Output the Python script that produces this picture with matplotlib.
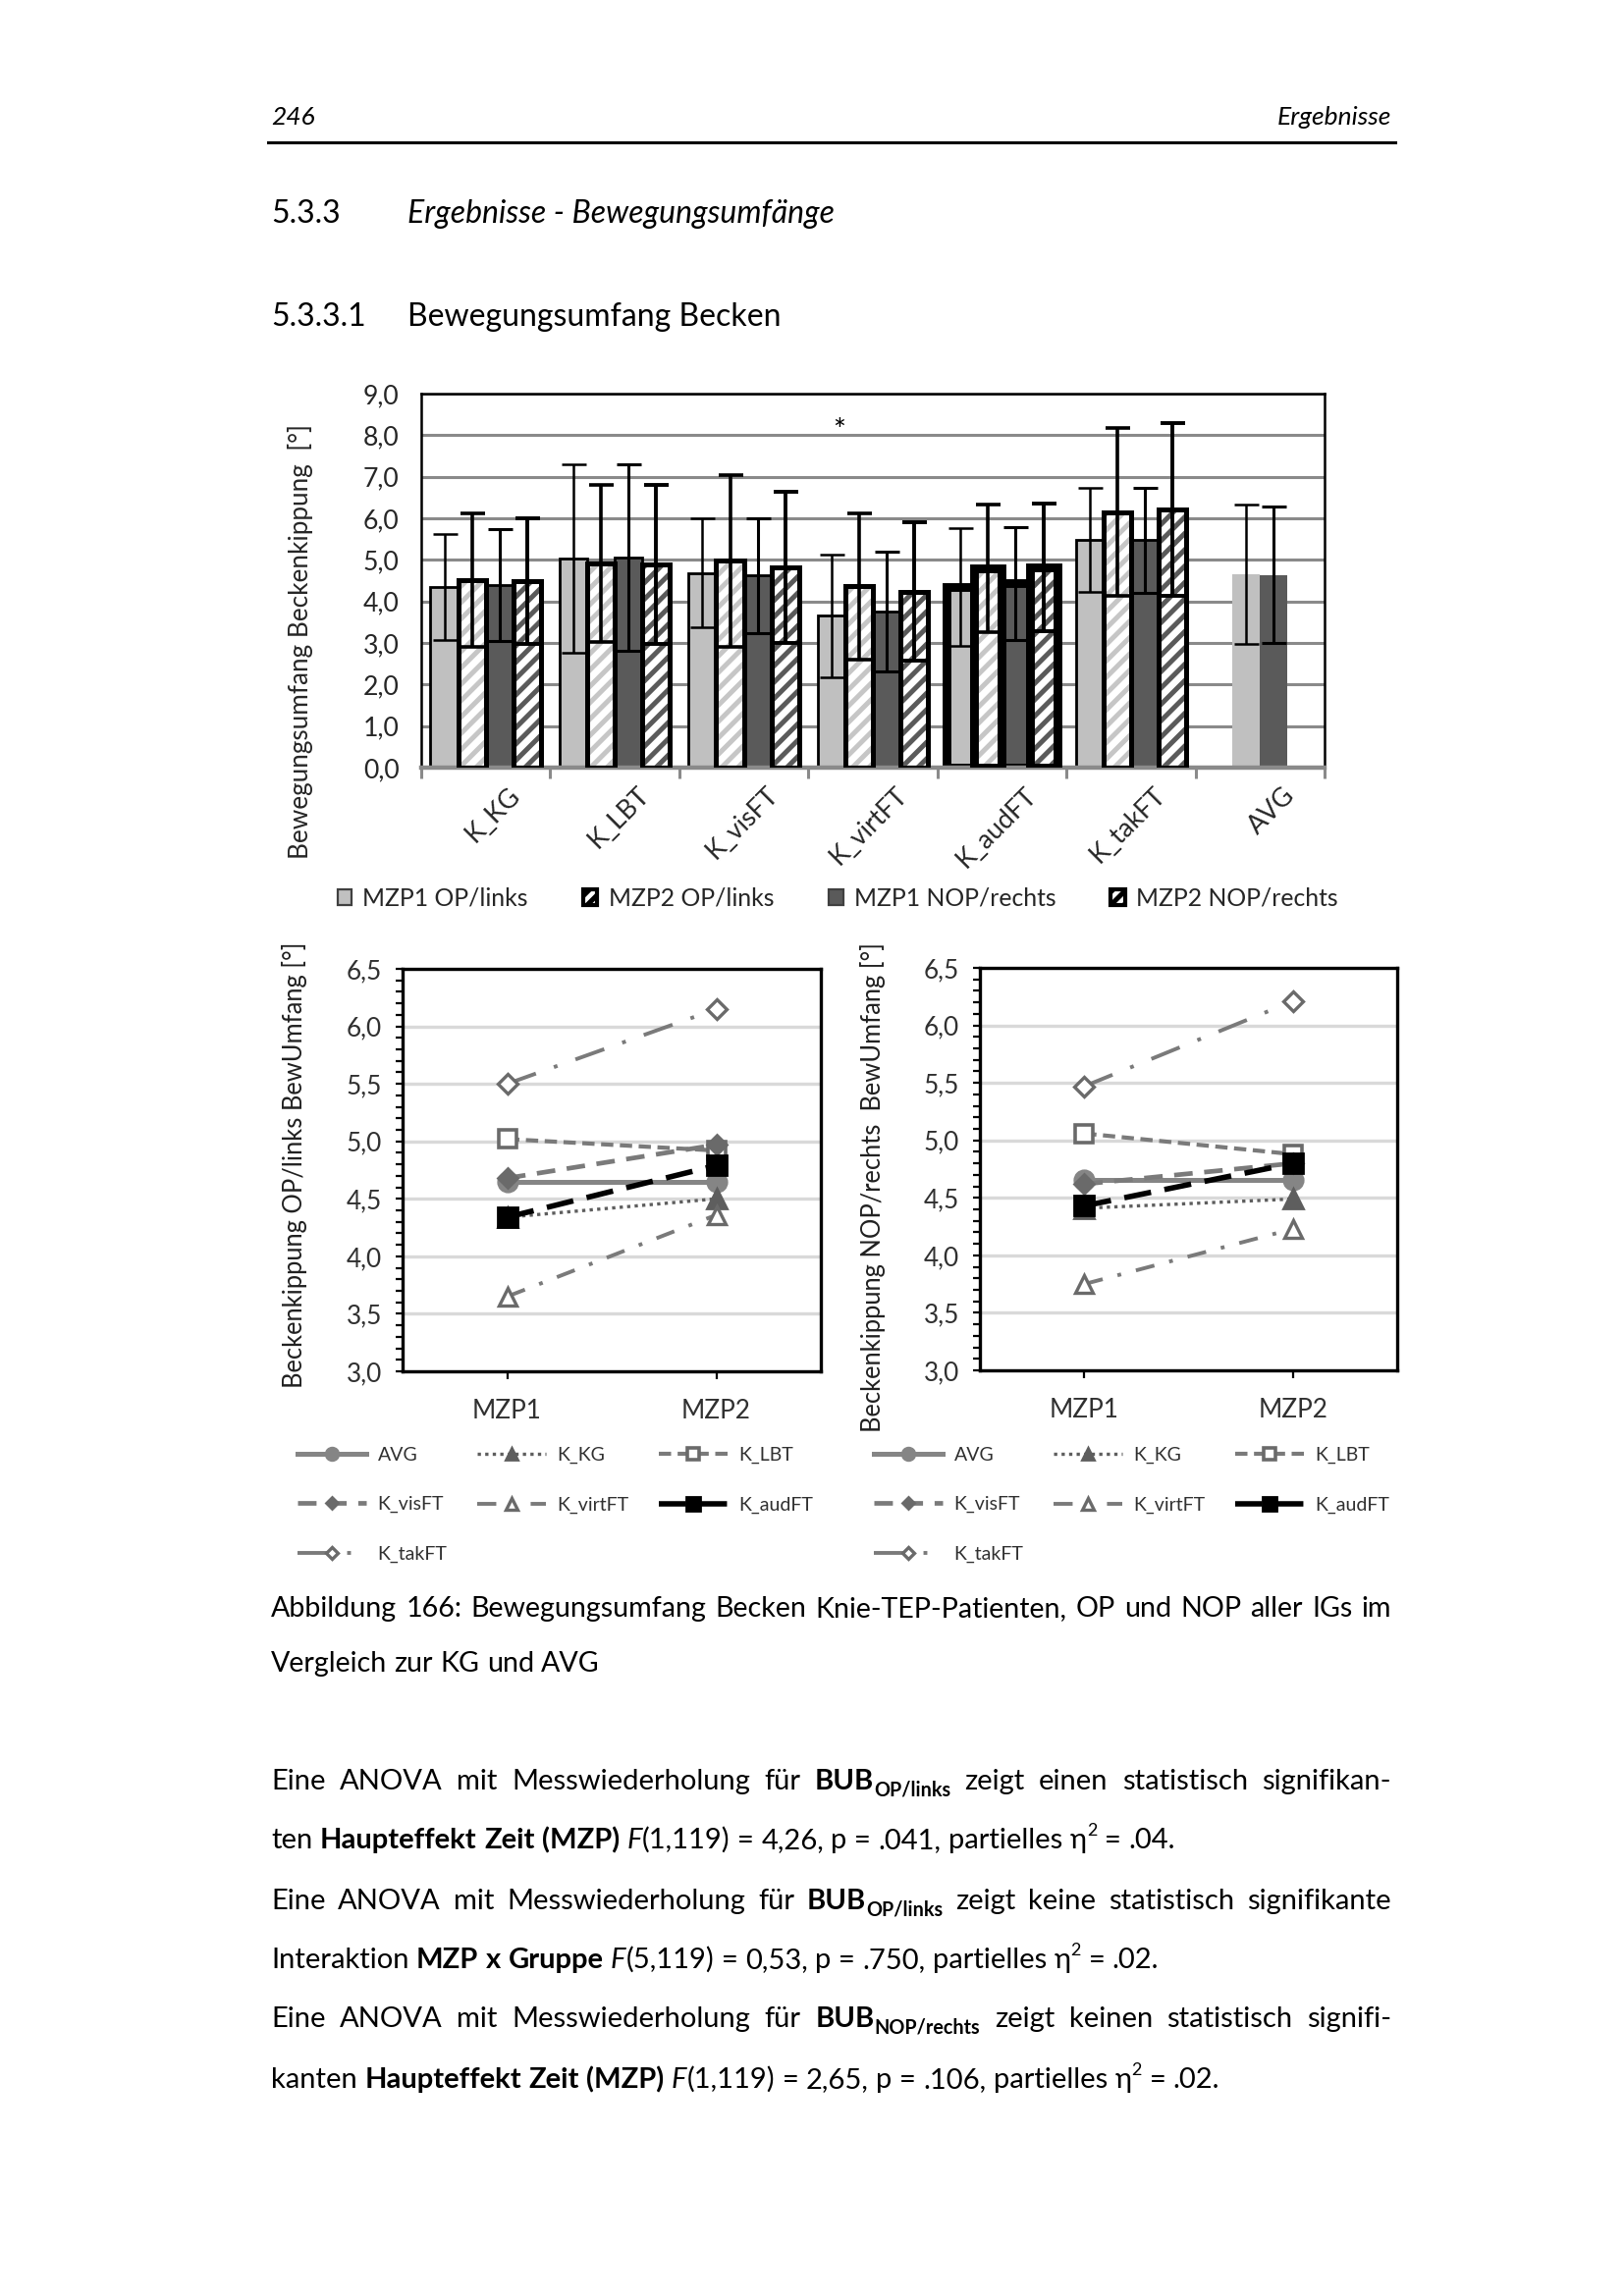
import numpy as np
import matplotlib
matplotlib.use('Agg')
import matplotlib.pyplot as plt
from matplotlib.patches import Patch
from matplotlib.lines import Line2D
from matplotlib.ticker import FuncFormatter, MultipleLocator

W, H, DPI = 1654, 2339, 200
plt.rcParams['font.family'] = ['Lato', 'DejaVu Sans']
plt.rcParams['hatch.linewidth'] = 1.8

# ---------------- data ----------------
categories = ['K_KG', 'K_LBT', 'K_visFT', 'K_virtFT', 'K_audFT', 'K_takFT', 'AVG']
bar_series = ['MZP1 OP/links', 'MZP2 OP/links', 'MZP1 NOP/rechts', 'MZP2 NOP/rechts']
mzp1_op = [4.34, 5.03, 4.68, 3.65, 4.34, 5.49, 4.65]
mzp2_op = [4.51, 4.92, 4.98, 4.36, 4.80, 6.15, np.nan]
mzp1_nop = [4.40, 5.06, 4.62, 3.75, 4.43, 5.47, 4.64]
mzp2_nop = [4.49, 4.89, 4.82, 4.24, 4.82, 6.21, np.nan]
sd1_op = [1.28, 2.27, 1.31, 1.48, 1.42, 1.25, 1.67]
sd2_op = [1.60, 1.89, 2.07, 1.75, 1.54, 2.02, np.nan]
sd1_nop = [1.35, 2.24, 1.38, 1.44, 1.36, 1.26, 1.64]
sd2_nop = [1.52, 1.92, 1.82, 1.66, 1.53, 2.08, np.nan]
bar_yticks = [0, 1, 2, 3, 4, 5, 6, 7, 8, 9]
star_label = '*'
star_pos = (2.74, 8.1)

time_points = ['MZP1', 'MZP2']
op_links_mzp1 = [4.34, 5.02, 4.68, 3.65, 4.34, 5.50, 4.65]
op_links_mzp2 = [4.50, 4.92, 4.97, 4.36, 4.79, 6.15, 4.65]
nop_rechts_mzp1 = [4.41, 5.06, 4.62, 3.75, 4.43, 5.47, 4.66]
nop_rechts_mzp2 = [4.49, 4.88, 4.80, 4.23, 4.80, 6.21, 4.66]
line_yticks = [3.0, 3.5, 4.0, 4.5, 5.0, 5.5, 6.0, 6.5]

# ---------------- figure ----------------
fig = plt.figure(figsize=(W / DPI, H / DPI), dpi=DPI)


def ax_rect(l, t, r, b):
    return [l / W, 1 - b / H, (r - l) / W, (b - t) / H]


comma = FuncFormatter(lambda v, p: f"{v:.1f}".replace('.', ','))

# ---------------- bar chart ----------------
ax = fig.add_axes(ax_rect(429, 401, 1349, 782))
n = len(categories)
x = np.arange(n)
bw = 0.214
is_avg = np.array([c == 'AVG' for c in categories])
pos_op1 = np.where(is_avg, x - 0.5 * bw, x - 1.5 * bw)
pos_op2 = x - 0.5 * bw
pos_nop1 = x + 0.5 * bw
pos_nop2 = x + 1.5 * bw
edge_thin = np.where(is_avg, 0.0, 1.0)
edge_thick = np.full(n, 1.8)
heavy = np.array([c == 'K_audFT' for c in categories])
edge_thin = np.where(heavy, 3.2, edge_thin)
edge_thick = np.where(heavy, 3.2, edge_thick)

LIGHT, DARK = '#c0c0c0', '#5a5a5a'
ax.bar(pos_op1, mzp1_op, bw, color=LIGHT, edgecolor='black', linewidth=edge_thin, zorder=2)
ax.bar(pos_op2, mzp2_op, bw, color='white', edgecolor='#c6c6c6', hatch='////', linewidth=0, zorder=2)
ax.bar(pos_op2, mzp2_op, bw, fill=False, edgecolor='black', linewidth=edge_thick, zorder=3)
ax.bar(pos_nop1, mzp1_nop, bw, color=DARK, edgecolor='black', linewidth=edge_thin, zorder=2)
ax.bar(pos_nop2, mzp2_nop, bw, color='white', edgecolor='#5a5a5a', hatch='////', linewidth=0, zorder=2)
ax.bar(pos_nop2, mzp2_nop, bw, fill=False, edgecolor='black', linewidth=edge_thick, zorder=3)

for pos, vals, sds, lw in [(pos_op1, mzp1_op, sd1_op, 0.9), (pos_op2, mzp2_op, sd2_op, 1.3),
                           (pos_nop1, mzp1_nop, sd1_nop, 1.1), (pos_nop2, mzp2_nop, sd2_nop, 1.4)]:
    ax.errorbar(pos, vals, yerr=sds, fmt='none', ecolor='black', elinewidth=lw,
                capsize=4.5, capthick=lw, zorder=4)

ax.set_xlim(-0.5, n - 0.5)
ax.set_ylim(0, 9)
ax.set_yticks(bar_yticks)
ax.yaxis.set_major_formatter(comma)
ax.yaxis.grid(True, color='#8a8a8a', linewidth=1.1)
ax.set_axisbelow(True)
ax.tick_params(axis='y', length=0, pad=8, labelsize=9.6, labelcolor='#262626')
ax.set_xticks(np.arange(-0.5, n, 1))
ax.set_xticklabels([])
ax.tick_params(axis='x', length=4, width=1.1, color='#8a8a8a')
for s in ['left', 'top', 'right']:
    ax.spines[s].set_color('black')
    ax.spines[s].set_linewidth(0.9)
ax.spines['bottom'].set_color('#8a8a8a')
ax.spines['bottom'].set_linewidth(1.6)
for i, c in enumerate(categories):
    ax.text(i + 0.17, -0.36, c, rotation=45, rotation_mode='anchor', ha='right', va='top',
            fontsize=9.6, color='#262626', clip_on=False)
ax.text(star_pos[0], star_pos[1], star_label, ha='center', va='center', fontsize=11, color='black')
fig.text(306 / W, 1 - 654 / H, 'Bewegungsumfang Beckenkippung  [°]', rotation=90,
         ha='center', va='center', fontsize=9.4, color='#262626')

leg_handles = [
    Patch(facecolor=LIGHT, edgecolor='#404040', linewidth=0.8),
    Patch(facecolor='white', edgecolor='black', hatch='/////', linewidth=1.5),
    Patch(facecolor=DARK, edgecolor='#404040', linewidth=0.8),
    Patch(facecolor='white', edgecolor='black', hatch='/////', linewidth=1.5),
]
fig.legend(leg_handles, bar_series, loc='center', bbox_to_anchor=(853 / W, 1 - 915 / H),
           ncol=4, frameon=False, fontsize=8.9, handlelength=0.6, handleheight=0.6,
           handletextpad=0.45, columnspacing=2.25, borderpad=0, labelcolor='#262626')

# ---------------- line charts ----------------
styles = {
    'AVG': dict(color='#858585', ls='-', lw=1.8, marker='o', ms=7, mfc='#858585', mec='#858585'),
    'K_KG': dict(color='#5e5e5e', ls=(0, (1, 1.3)), lw=1.2, marker='^', ms=7, mfc='#5e5e5e', mec='#5e5e5e'),
    'K_LBT': dict(color='#7a7a7a', ls=(0, (3, 1.6)), lw=1.5, marker='s', ms=6.5, mfc='white', mec='#6a6a6a', mew=1.3),
    'K_visFT': dict(color='#7a7a7a', ls=(0, (4, 2.5)), lw=1.7, marker='D', ms=5, mfc='#6a6a6a', mec='#6a6a6a'),
    'K_virtFT': dict(color='#7a7a7a', ls=(0, (5, 4, 1, 4)), lw=1.4, marker='^', ms=6.5, mfc='white', mec='#6a6a6a', mew=1.2),
    'K_takFT': dict(color='#7a7a7a', ls=(0, (8, 5, 1, 5)), lw=1.4, marker='D', ms=5, mfc='white', mec='#6a6a6a', mew=1.2),
    'K_audFT': dict(color='black', ls=(0, (5, 2.5)), lw=2.0, marker='s', ms=7.5, mfc='black', mec='black'),
}
draw_order = ['AVG', 'K_KG', 'K_LBT', 'K_visFT', 'K_virtFT', 'K_takFT', 'K_audFT']
legend_order = ['AVG', 'K_visFT', 'K_takFT', 'K_KG', 'K_virtFT', 'K_LBT', 'K_audFT']

panels = [
    (ax_rect(410, 987, 836, 1397), op_links_mzp1, op_links_mzp2,
     'Beckenkippung OP/links BewUmfang [°]', 300, 303),
    (ax_rect(998, 986, 1423, 1396), nop_rechts_mzp1, nop_rechts_mzp2,
     'Beckenkippung NOP/rechts  BewUmfang [°]', 889, 890),
]
xp = np.array([0.5, 1.5])
for rect, v1, v2, ylabel, ylab_x, leg_x in panels:
    la = fig.add_axes(rect)
    handles = {}
    for name in draw_order:
        i = categories.index(name)
        ln, = la.plot(xp, [v1[i], v2[i]], label=name, zorder=3, clip_on=False, **styles[name])
        handles[name] = ln
    la.set_xlim(0, 2)
    la.set_ylim(3.0, 6.5)
    la.set_yticks(line_yticks)
    la.yaxis.set_minor_locator(MultipleLocator(0.1))
    la.yaxis.set_major_formatter(comma)
    la.yaxis.grid(True, color='#d9d9d9', linewidth=1.2)
    la.set_axisbelow(True)
    la.set_xticks(xp)
    la.set_xticklabels(time_points)
    la.tick_params(axis='y', which='both', direction='out', length=2.5, width=0.8,
                   labelsize=9.4, pad=5, labelcolor='#303030')
    la.tick_params(axis='x', direction='out', length=3, width=0.8, labelsize=9.4,
                   pad=7, labelcolor='#303030')
    for s in la.spines.values():
        s.set_color('black')
        s.set_linewidth(1.2)
    fig.text(ylab_x / W, 1 - 960 / H, ylabel, rotation=90, ha='center', va='top',
             fontsize=9.2, color='#202020')
    la.legend([handles[k] for k in legend_order], legend_order, ncol=3, loc='upper left',
              bbox_to_anchor=(leg_x / W, 1 - 1474 / H), bbox_transform=fig.transFigure,
              frameon=False, fontsize=7, handlelength=3.6, handletextpad=0.6,
              columnspacing=1.55, labelspacing=1.7, borderpad=0, borderaxespad=0,
              markerscale=0.65, labelcolor='#303030')

# ---------------- page text ----------------
renderer = fig.canvas.get_renderer()


def props(st, size):
    return dict(fontsize=size * st.get('scale', 1.0), fontweight=st.get('weight', 'normal'),
                fontstyle=st.get('style', 'normal'), color='black')


def measure(s, st, size):
    t = fig.text(0, 0, s, **props(st, size))
    w = t.get_window_extent(renderer).width
    t.remove()
    return w


def to_words(runs):
    words = [[]]
    for txt, st in runs:
        parts = txt.split(' ')
        for k, p in enumerate(parts):
            if k > 0:
                words.append([])
            if p:
                words[-1].append((p, st))
    return [w for w in words if w]


def draw_line(y_base, runs, size, x0=276, x1=1417, justify=False):
    words = to_words(runs)
    widths = [[measure(t, st, size) for t, st in w] for w in words]
    total = sum(sum(ws) for ws in widths)
    if justify and len(words) > 1:
        gap = (x1 - x0 - total) / (len(words) - 1)
    else:
        gap = measure('a a', {}, size) - measure('aa', {}, size)
    xx = x0
    for w, ws in zip(words, widths):
        for (t, st), wd in zip(w, ws):
            fig.text(xx / W, 1 - (y_base - st.get('dy', 0)) / H, t, ha='left', va='baseline',
                     **props(st, size))
            xx += wd
        xx += gap


N = {}
B = {'weight': 'bold'}
I = {'style': 'italic'}
SUB = {'weight': 'bold', 'scale': 0.68, 'dy': -6}
SUP = {'scale': 0.62, 'dy': 13}

# header
fig.text(276 / W, 1 - 127 / H, '246', ha='left', va='baseline', fontsize=9.5, fontstyle='italic')
fig.text(1417 / W, 1 - 127 / H, 'Ergebnisse', ha='right', va='baseline', fontsize=9.5, fontstyle='italic')
fig.add_artist(Line2D([273 / W, 1421 / W], [1 - 145 / H, 1 - 145 / H], color='black', linewidth=1.1))

fig.text(276 / W, 1 - 227 / H, '5.3.3', ha='left', va='baseline', fontsize=11.5)
fig.text(415 / W, 1 - 227 / H, 'Ergebnisse - Bewegungsumfänge', ha='left', va='baseline',
         fontsize=11.5, fontstyle='italic')
fig.text(276 / W, 1 - 332 / H, '5.3.3.1', ha='left', va='baseline', fontsize=11.5)
fig.text(415 / W, 1 - 332 / H, 'Bewegungsumfang Becken', ha='left', va='baseline', fontsize=11.5)

# caption
draw_line(1647, [('Abbildung 166: Bewegungsumfang Becken Knie-TEP-Patienten, OP und NOP aller IGs im', N)],
          10.3, justify=True)
draw_line(1703, [('Vergleich zur KG und AVG', N)], 10.3)

# body
body = [
    (1823, [('Eine ANOVA mit Messwiederholung für ', N), ('BUB', B), ('OP/links', SUB),
            (' zeigt einen statistisch signifikan-', N)], True),
    (1883, [('ten ', N), ('Haupteffekt Zeit (MZP)', B), (' ', N), ('F', I),
            ('(1,119) = 4,26, p = .041, partielles η', N), ('2', SUP), (' = .04.', N)], False),
    (1945, [('Eine ANOVA mit Messwiederholung für ', N), ('BUB', B), ('OP/links', SUB),
            (' zeigt keine statistisch signifikante', N)], True),
    (2005, [('Interaktion ', N), ('MZP x Gruppe', B), (' ', N), ('F', I),
            ('(5,119) = 0,53, p = .750, partielles η', N), ('2', SUP), (' = .02.', N)], False),
    (2065, [('Eine ANOVA mit Messwiederholung für ', N), ('BUB', B), ('NOP/rechts', SUB),
            (' zeigt keinen statistisch signifi-', N)], True),
    (2127, [('kanten ', N), ('Haupteffekt Zeit (MZP)', B), (' ', N), ('F', I),
            ('(1,119) = 2,65, p = .106, partielles η', N), ('2', SUP), (' = .02.', N)], False),
]
for yb, runs, just in body:
    draw_line(yb, runs, 10.5, justify=just)

fig.savefig('out.png', dpi=DPI)
